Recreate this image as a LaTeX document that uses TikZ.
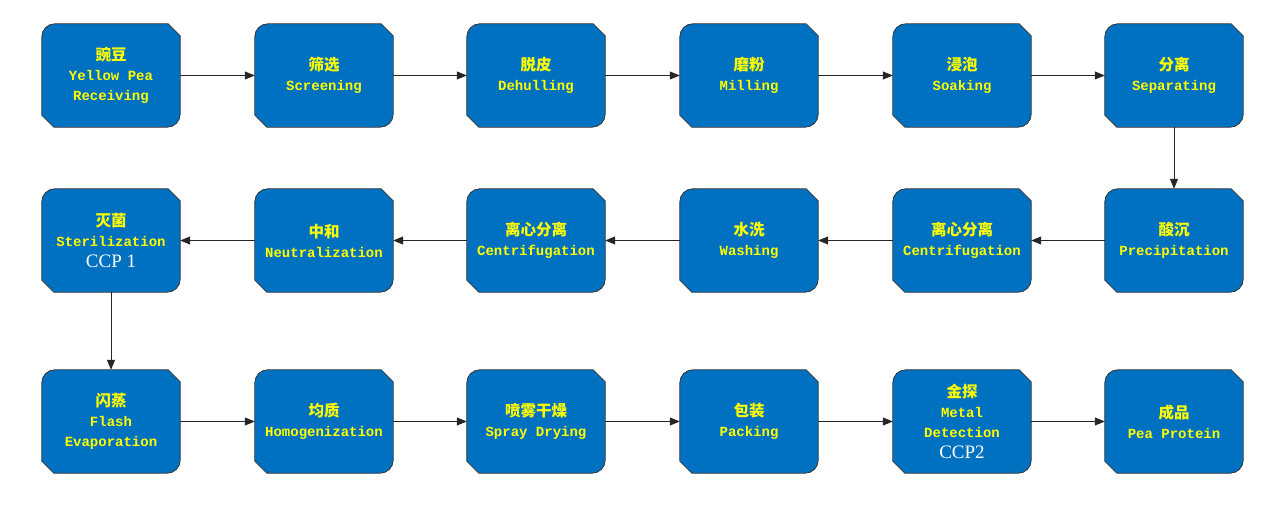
\documentclass[tikz,border=0pt]{standalone}
\usepackage{fontspec}
\setmainfont{Liberation Serif}
\setmonofont{Liberation Mono}
\newfontfamily\cjk{Noto Sans CJK SC}
\usetikzlibrary{arrows.meta,backgrounds}
\definecolor{boxblue}{HTML}{0070C0}
\definecolor{boxline}{HTML}{333333}
\definecolor{txtyellow}{HTML}{FFFF00}
\tikzset{
  stepnode/.style={minimum width=138pt, minimum height=103pt, inner sep=0pt, align=center,
    text=txtyellow, font=\ttfamily\bfseries\fontsize{14pt}{20pt}\selectfont},
  flow/.style={draw=black!85, line width=0.8pt, -{Triangle[length=10pt,width=8pt]}},
  boxshape/.style={fill=boxblue, draw=boxline, line width=0.8pt},
}
\newcommand{\cn}[1]{{\cjk\bfseries\fontsize{15.5pt}{20pt}\selectfont #1}}
\newcommand{\ccp}[1]{{\rmfamily\mdseries\color{white}\fontsize{19pt}{23pt}\selectfont #1}}
\newcommand{\stepshape}[1]{%
  \path[boxshape] ([xshift=13pt]#1.north west) -- ([xshift=-12pt]#1.north east)
    -- ([yshift=-12pt]#1.north east) -- ([yshift=13pt]#1.south east)
    arc[start angle=0, end angle=-90, radius=13pt]
    -- ([xshift=12pt]#1.south west) -- ([yshift=12pt]#1.south west)
    -- ([yshift=-13pt]#1.north west)
    arc[start angle=180, end angle=90, radius=13pt] -- cycle;}
\begin{document}
\begin{tikzpicture}[x=1pt,y=1pt]
\useasboundingbox (0,0) rectangle (1286,511);
% row 1
\node[stepnode] (a1) at (111,435.5) {\cn{豌豆}\\Yellow Pea\\Receiving};
\node[stepnode] (a2) at (324,435.5) {\cn{筛选}\\Screening};
\node[stepnode] (a3) at (536,435.5) {\cn{脱皮}\\Dehulling};
\node[stepnode] (a4) at (749,435.5) {\cn{磨粉}\\Milling};
\node[stepnode] (a5) at (962,435.5) {\cn{浸泡}\\Soaking};
\node[stepnode] (a6) at (1174,435.5) {\cn{分离}\\Separating};
% row 2
\node[stepnode] (b1) at (111,270.5) {\cn{灭菌}\\Sterilization\\[1pt]\ccp{CCP 1}};
\node[stepnode] (b2) at (324,270.5) {\cn{中和}\\Neutralization};
\node[stepnode] (b3) at (536,270.5) {\cn{离心分离}\\Centrifugation};
\node[stepnode] (b4) at (749,270.5) {\cn{水洗}\\Washing};
\node[stepnode] (b5) at (962,270.5) {\cn{离心分离}\\Centrifugation};
\node[stepnode] (b6) at (1174,270.5) {\cn{酸沉}\\Precipitation};
% row 3
\node[stepnode] (c1) at (111,89.5) {\cn{闪蒸}\\Flash\\Evaporation};
\node[stepnode] (c2) at (324,89.5) {\cn{均质}\\Homogenization};
\node[stepnode] (c3) at (536,89.5) {\cn{喷雾干燥}\\Spray Drying};
\node[stepnode] (c4) at (749,89.5) {\cn{包装}\\Packing};
\node[stepnode] (c5) at (962,89.5) {\cn{金探}\\Metal\\Detection\\[1pt]\ccp{CCP2}};
\node[stepnode] (c6) at (1174,89.5) {\cn{成品}\\Pea Protein};
\begin{scope}[on background layer]
\foreach \n in {a1,a2,a3,a4,a5,a6,b1,b2,b3,b4,b5,b6,c1,c2,c3,c4,c5,c6}{\stepshape{\n}}
\end{scope}
\draw[flow] (a1) -- (a2);
\draw[flow] (a2) -- (a3);
\draw[flow] (a3) -- (a4);
\draw[flow] (a4) -- (a5);
\draw[flow] (a5) -- (a6);
\draw[flow] (a6) -- (b6);
\draw[flow] (b6) -- (b5);
\draw[flow] (b5) -- (b4);
\draw[flow] (b4) -- (b3);
\draw[flow] (b3) -- (b2);
\draw[flow] (b2) -- (b1);
\draw[flow] (b1) -- (c1);
\draw[flow] (c1) -- (c2);
\draw[flow] (c2) -- (c3);
\draw[flow] (c3) -- (c4);
\draw[flow] (c4) -- (c5);
\draw[flow] (c5) -- (c6);
\end{tikzpicture}
\end{document}
